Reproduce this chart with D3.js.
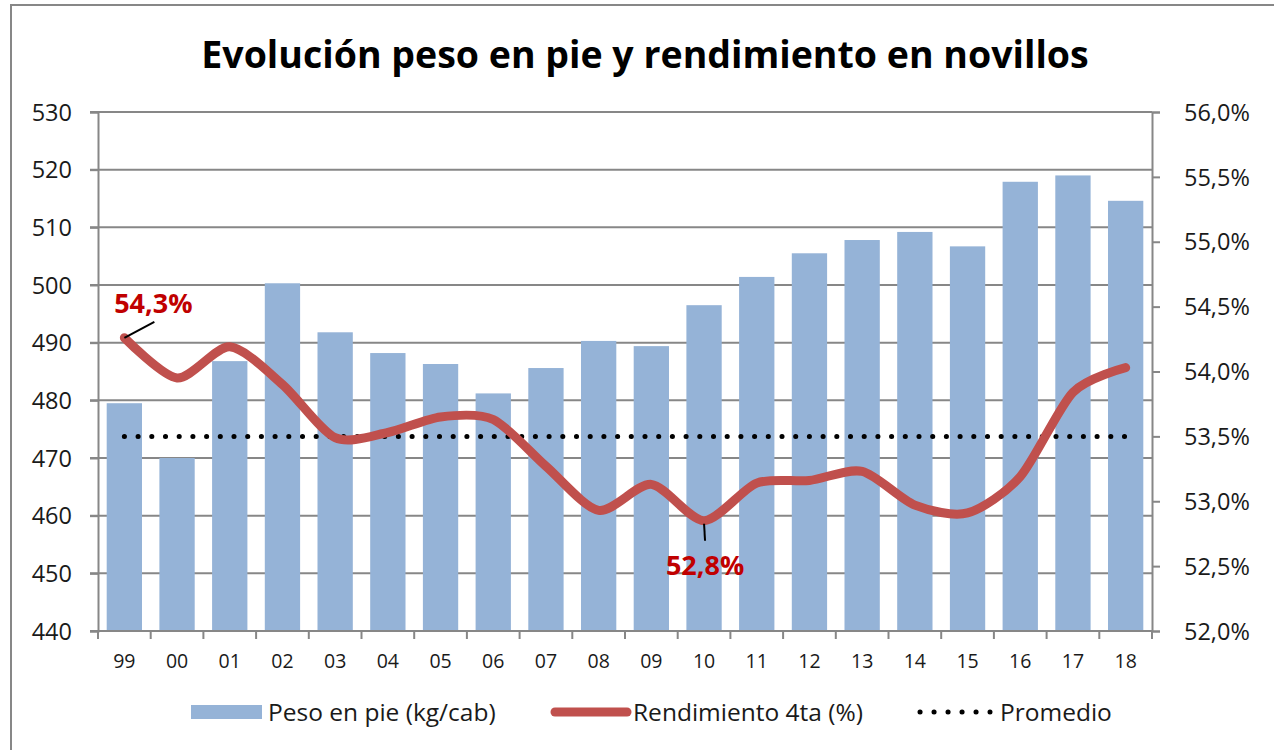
<!DOCTYPE html>
<html>
<head>
<meta charset="utf-8">
<script src="https://cdn.jsdelivr.net/npm/d3@7"></script>
<style>
  body { margin: 0; background: #fff; }
  text { font-family: 'Open Sans', 'Noto Sans', sans-serif; fill: #1a1a1a; }
</style>
</head>
<body>
<script>
// data
var years = ['99', '00', '01', '02', '03', '04', '05', '06', '07', '08',
  '09', '10', '11', '12', '13', '14', '15', '16', '17', '18'];
var peso = [479.5, 470.0, 486.8, 500.3, 491.8, 488.2, 486.3, 481.2, 485.6, 490.3,
  489.4, 496.5, 501.4, 505.5, 507.8, 509.2, 506.7, 517.9, 519.0, 514.6];
var rendimiento = [54.26, 53.95, 54.19, 53.90, 53.49, 53.53, 53.65, 53.63, 53.27, 52.93,
  53.13, 52.85, 53.14, 53.16, 53.23, 52.97, 52.91, 53.19, 53.84, 54.03];
var promedio = years.map(function () { return 53.5; });
var leftTicks = [440, 450, 460, 470, 480, 490, 500, 510, 520, 530];
var rightTicks = [52.0, 52.5, 53.0, 53.5, 54.0, 54.5, 55.0, 55.5, 56.0];
var labels = [{ i: 0, text: '54,3%', dx: 30, dy: -26 }, { i: 11, text: '52,8%', dx: 1, dy: 46 }];

var width = 1274,
  height = 750,
  margin = { top: 112, right: 122, bottom: 119, left: 98 },
  svg = d3.select('body').append('svg')
    .attr('width', width)
    .attr('height', height);

var x = d3.scaleBand()
  .domain(years)
  .range([margin.left, width - margin.right])
  .paddingInner(0.33)
  .paddingOuter(0.165);

var yL = d3.scaleLinear()
  .domain([440, 530])
  .range([height - margin.bottom, margin.top]);

var yR = d3.scaleLinear()
  .domain([52, 56])
  .range([height - margin.bottom, margin.top]);

var grey = '#878787';

// outer frame
svg.append('rect')
  .attr('x', 11).attr('y', 5)
  .attr('width', width).attr('height', height)
  .attr('fill', 'none')
  .attr('stroke', grey)
  .attr('stroke-width', 2);

svg.append('text')
  .attr('x', 645)
  .attr('y', 68)
  .attr('text-anchor', 'middle')
  .style('font-size', '37.5px')
  .style('font-weight', 'bold')
  .style('fill', '#000')
  .text('Evolución peso en pie y rendimiento en novillos');

// gridlines
svg.append('g')
  .selectAll('line')
  .data(leftTicks)
  .enter()
  .append('line')
  .attr('x1', margin.left - 8)
  .attr('x2', width - margin.right)
  .attr('y1', function (d) { return yL(d); })
  .attr('y2', function (d) { return yL(d); })
  .attr('stroke', grey)
  .attr('stroke-width', 2);

// left axis
svg.append('g')
  .attr('transform', 'translate(' + margin.left + ',0)')
  .call(d3.axisLeft(yL).tickValues(leftTicks).tickSize(8).tickPadding(18))
  .call(function (g) {
    g.select('.domain').attr('stroke', grey).attr('stroke-width', 2);
    g.selectAll('.tick line').attr('stroke', grey).attr('stroke-width', 2);
    g.selectAll('.tick text').style('font-size', '23.5px').attr('dy', '0.35em')
      .style('font-family', "'Open Sans', sans-serif").attr('fill', '#1a1a1a');
  });

// right axis
svg.append('g')
  .attr('transform', 'translate(' + (width - margin.right) + ',0)')
  .call(d3.axisRight(yR).tickValues(rightTicks).tickSize(8).tickPadding(24)
    .tickFormat(function (d) { return d.toFixed(1).replace('.', ',') + '%'; }))
  .call(function (g) {
    g.select('.domain').attr('stroke', grey).attr('stroke-width', 2);
    g.selectAll('.tick line').attr('stroke', grey).attr('stroke-width', 2);
    g.selectAll('.tick text').style('font-size', '23.5px').attr('dy', '0.35em')
      .style('font-family', "'Open Sans', sans-serif").attr('fill', '#1a1a1a');
  });

// bars
svg.append('g')
  .selectAll('rect')
  .data(peso)
  .enter()
  .append('rect')
  .attr('x', function (d, i) { return x(years[i]); })
  .attr('width', x.bandwidth())
  .attr('y', function (d) { return yL(d); })
  .attr('height', function (d) { return yL(440) - yL(d); })
  .attr('fill', '#95B3D7');

// bottom axis: ticks between categories
var step = x.step();
var bottom = svg.append('g')
  .attr('transform', 'translate(0,' + yL(440) + ')');
bottom.append('line')
  .attr('x1', margin.left).attr('x2', width - margin.right)
  .attr('stroke', grey).attr('stroke-width', 2);
bottom.selectAll('.tk')
  .data(d3.range(years.length + 1))
  .enter()
  .append('line')
  .attr('x1', function (i) { return margin.left + i * step; })
  .attr('x2', function (i) { return margin.left + i * step; })
  .attr('y1', 0).attr('y2', 8)
  .attr('stroke', grey).attr('stroke-width', 2);
bottom.selectAll('text')
  .data(years)
  .enter()
  .append('text')
  .attr('x', function (d) { return x(d) + x.bandwidth() / 2; })
  .attr('y', 37)
  .attr('text-anchor', 'middle')
  .style('font-size', '19.5px')
  .text(function (d) { return d; });

function cx(i) { return x(years[i]) + x.bandwidth() / 2; }

// promedio dotted
svg.append('path')
  .datum(promedio)
  .attr('d', d3.line()
    .x(function (d, i) { return cx(i); })
    .y(function (d) { return yR(d); }))
  .attr('fill', 'none')
  .attr('stroke', '#000')
  .attr('stroke-width', 5)
  .attr('stroke-linecap', 'round')
  .attr('stroke-dasharray', '0.1 13.6');

// rendimiento smooth line
svg.append('path')
  .datum(rendimiento)
  .attr('d', d3.line()
    .curve(d3.curveCardinal.tension(0.2))
    .x(function (d, i) { return cx(i); })
    .y(function (d) { return yR(d); }))
  .attr('fill', 'none')
  .attr('stroke', '#C0504D')
  .attr('stroke-width', 9)
  .attr('stroke-linecap', 'round');

// data labels with leaders
labels.forEach(function (l) {
  var px = cx(l.i), py = yR(rendimiento[l.i]);
  var lx = px + l.dx;
  svg.append('line')
    .attr('x1', px).attr('y1', py + (l.dy > 0 ? 3 : 0))
    .attr('x2', l.dy > 0 ? lx : px + 30)
    .attr('y2', l.dy > 0 ? py + 20 : py - 16)
    .attr('stroke', '#000')
    .attr('stroke-width', 2);
  svg.append('text')
    .attr('x', l.dy > 0 ? lx : px + 29)
    .attr('y', l.dy > 0 ? py + 54 : py - 25)
    .attr('text-anchor', 'middle')
    .style('font-size', '27px')
    .style('font-weight', 'bold')
    .style('fill', '#C00000')
    .text(l.text);
});

// legend
var leg = svg.append('g').attr('transform', 'translate(0,712)');
leg.append('rect')
  .attr('x', 191).attr('y', -7)
  .attr('width', 71).attr('height', 14)
  .attr('fill', '#95B3D7');
leg.append('text').attr('x', 268).attr('y', 8.5).style('font-size', '24.5px')
  .text('Peso en pie (kg/cab)');
leg.append('line')
  .attr('x1', 555).attr('x2', 627)
  .attr('stroke', '#C0504D').attr('stroke-width', 9).attr('stroke-linecap', 'round');
leg.append('text').attr('x', 633).attr('y', 8.5).style('font-size', '24.5px')
  .text('Rendimiento 4ta (%)');
leg.append('line')
  .attr('x1', 920).attr('x2', 990)
  .attr('stroke', '#000').attr('stroke-width', 5).attr('stroke-linecap', 'round')
  .attr('stroke-dasharray', '0.1 13.9');
leg.append('text').attr('x', 1000).attr('y', 8.5).style('font-size', '24.5px')
  .text('Promedio');
</script>
</body>
</html>
